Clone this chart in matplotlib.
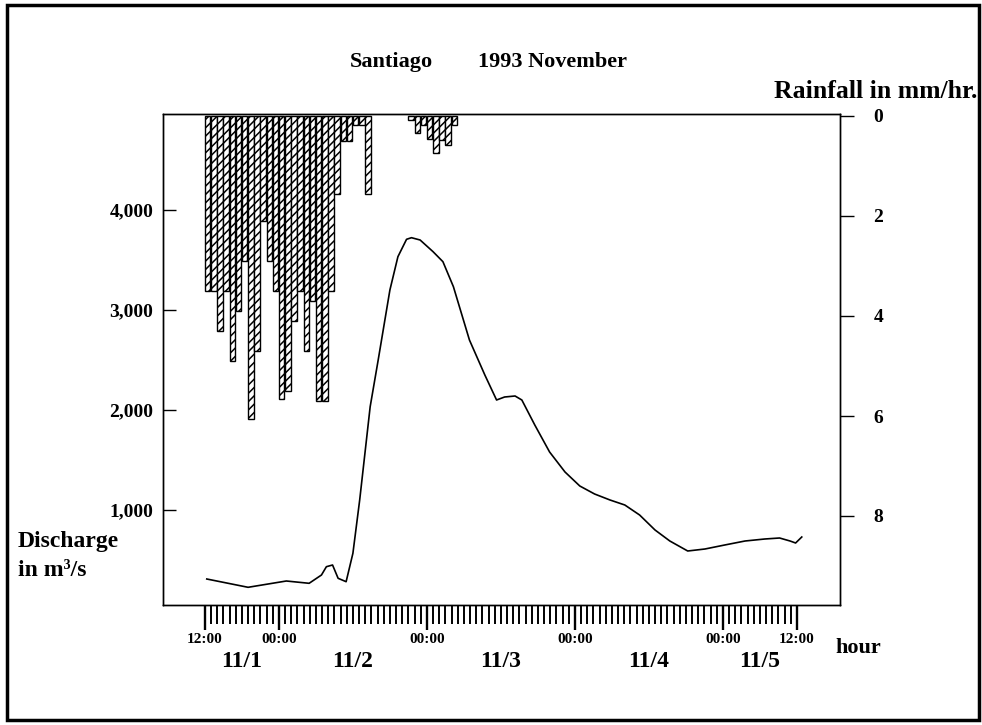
import matplotlib.pyplot as plt
from matplotlib.patches import Rectangle
import numpy as np

plt.rcParams['font.family'] = ['Liberation Serif', 'DejaVu Serif']
plt.rcParams['font.weight'] = 'bold'
plt.rcParams['hatch.linewidth'] = 1.1

# hours counted from 11/1 12:00
rain_hours = [0, 1, 2, 3, 4, 5, 6, 7, 8, 9, 10, 11, 12, 13, 14, 15, 16, 17, 18,
              19, 20, 21, 22, 23, 24, 25, 26,
              33, 34, 35, 36, 37, 38, 39, 40]
rain_mm = [3.5, 3.5, 4.3, 3.5, 4.9, 3.9, 2.9, 6.05, 4.7, 2.1, 2.9, 3.5, 5.65, 5.5,
           4.1, 3.5, 4.7, 3.7, 5.7, 5.7, 3.5, 1.55, 0.5, 0.5, 0.18, 0.18, 1.55,
           0.08, 0.34, 0.18, 0.46, 0.74, 0.48, 0.58, 0.18]

flow_hours = [0.3, 7.0, 13.2, 16.9, 18.9, 19.7, 20.7, 21.6, 22.9, 24.0, 25.1, 26.8,
              28.1, 30.0, 31.3, 32.7, 33.5, 34.9, 37.0, 38.6, 40.3, 42.9, 45.4,
              47.3, 48.6, 50.3, 51.4, 53.5, 55.9, 58.4, 60.8, 63.2, 65.7, 68.1,
              70.5, 73.0, 75.4, 78.3, 81.1, 84.3, 87.6, 90.8, 93.2, 94.9, 95.8, 96.8]
flow_m3s = [310, 227, 290, 267, 350, 433, 450, 317, 283, 567, 1100, 2033,
            2500, 3200, 3533, 3707, 3723, 3700, 3583, 3483, 3233, 2700, 2350,
            2100, 2130, 2140, 2100, 1850, 1580, 1380, 1240, 1160, 1100, 1050,
            950, 800, 690, 590, 610, 650, 690, 710, 720, 690, 670, 730]

q_ticks = [1000, 2000, 3000, 4000]
q_labels = ['1,000', '2,000', '3,000', '4,000']
r_ticks = [0, 2, 4, 6, 8]
hour_ticks = [0, 12, 36, 60, 84, 96]
hour_labels = ['12:00', '00:00', '00:00', '00:00', '00:00', '12:00']
day_pos = [6, 24, 48, 72, 90]
day_labels = ['11/1', '11/2', '11/3', '11/4', '11/5']

fig = plt.figure(figsize=(9.82, 7.25), dpi=100)
ax = fig.add_axes([163/982, 1-605/725, (840-163)/982, (605-114)/725])

ax.plot(flow_hours, flow_m3s, color='black', lw=1.2)
ax.set_xlim(-6.8, 103)
ax.set_ylim(50, 4960)

ax.set_xticks(hour_ticks, hour_labels, fontsize=11)
ax.set_xticks(np.arange(0, 97, 1), minor=True)
ax.tick_params(axis='x', which='major', direction='out', length=18, width=1.7, pad=2)
ax.tick_params(axis='x', which='minor', direction='out', length=14, width=1.4)
ax.set_yticks(q_ticks, q_labels, fontsize=14)
ax.tick_params(axis='y', direction='in', length=9, width=1.0, pad=7)

for x, lab in zip(day_pos, day_labels):
    ax.text(x, -0.115, lab, transform=ax.get_xaxis_transform(),
            ha='center', va='center', fontsize=17)

ax2 = ax.twinx()
ax2.bar(rain_hours, rain_mm, width=0.9, align='edge', color='white',
        edgecolor='black', hatch='////', lw=1.0)
ax2.set_ylim(9.78, -0.04)
ax2.set_yticks(r_ticks, [str(v) for v in r_ticks], fontsize=14)
ax2.tick_params(axis='y', direction='out', length=10, width=1.0, pad=14)

for a in (ax, ax2):
    for s in a.spines.values():
        s.set_linewidth(1.0)

fig.text(391/982, 1-62/725, 'Santiago', ha='center', va='center', fontsize=16)
fig.text(552/982, 1-62/725, '1993 November', ha='center', va='center', fontsize=16)
fig.text(977/982, 1-92/725, 'Rainfall in mm/hr.', ha='right', va='center', fontsize=18.5)
fig.text(18/982, 1-541/725, 'Discharge', ha='left', va='center', fontsize=17)
fig.text(18/982, 1-571/725, 'in m³/s', ha='left', va='center', fontsize=17)
fig.text(858/982, 1-648/725, 'hour', ha='center', va='center', fontsize=16)

fig.add_artist(Rectangle((7/982, 1-720/725), 972/982, 715/725, fill=False,
                         lw=2.5, edgecolor='black', transform=fig.transFigure))

fig.savefig('out.png', dpi=100)
